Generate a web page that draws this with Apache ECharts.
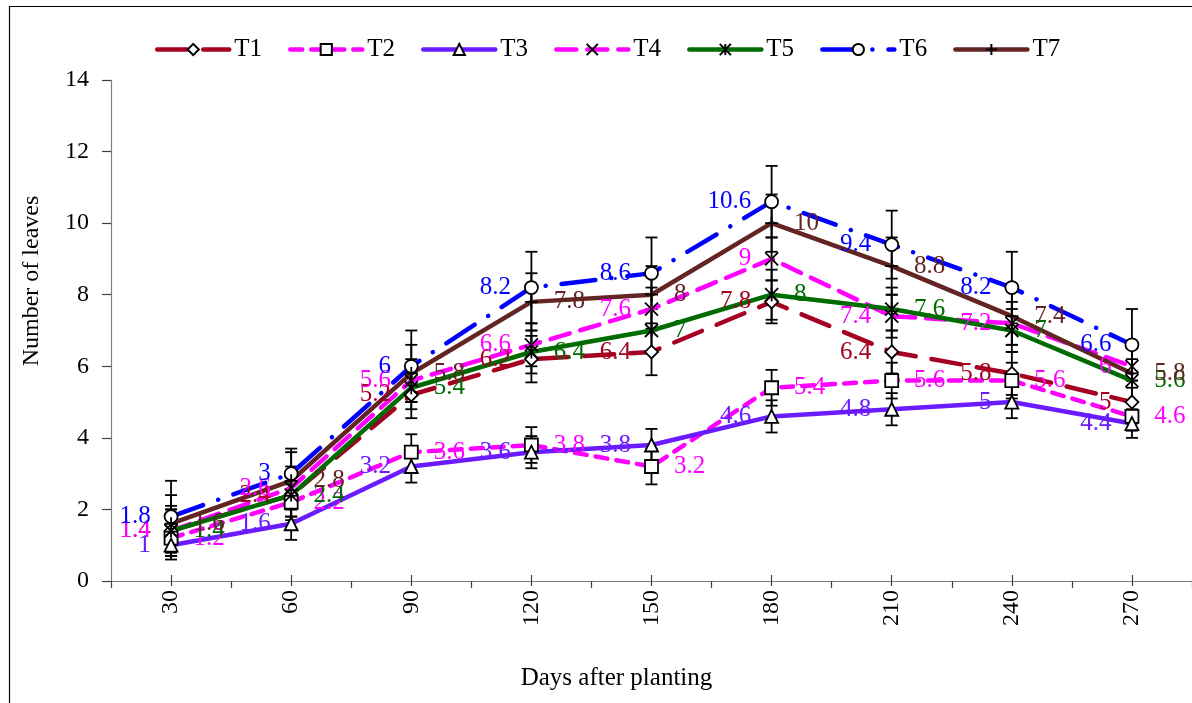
<!DOCTYPE html>
<html><head><meta charset="utf-8">
<script src="https://cdn.jsdelivr.net/npm/echarts@6/dist/echarts.min.js"></script>
<style>html,body{margin:0;padding:0;background:#fff}#chart{width:1192px;height:703px}</style>
</head><body><div id="chart"></div>
<script>
// ---- data ----
const days = ['30', '60', '90', '120', '150', '180', '210', '240', '270'];
const seriesNames = ['T1', 'T2', 'T3', 'T4', 'T5', 'T6', 'T7'];
const T1 = [1.4, 2.4, 5.2, 6.2, 6.4, 7.8, 6.4, 5.8, 5.0];
const T2 = [1.2, 2.2, 3.6, 3.8, 3.2, 5.4, 5.6, 5.6, 4.6];
const T3 = [1.0, 1.6, 3.2, 3.6, 3.8, 4.6, 4.8, 5.0, 4.4];
const T4 = [1.4, 2.6, 5.6, 6.6, 7.6, 9.0, 7.4, 7.2, 6.0];
const T5 = [1.4, 2.4, 5.4, 6.4, 7.0, 8.0, 7.6, 7.0, 5.6];
const T6 = [1.8, 3.0, 6.0, 8.2, 8.6, 10.6, 9.4, 8.2, 6.6];
const T7 = [1.6, 2.8, 5.8, 7.8, 8.0, 10.0, 8.8, 7.4, 5.8];
// error bar half-lengths (estimated)
const E1 = [0.7, 0.6, 0.65, 0.65, 0.65, 0.6, 0.6, 0.6, 0.6];
const E2 = [0.5, 0.5, 0.5, 0.5, 0.5, 0.5, 0.5, 0.5, 0.4];
const E3 = [0.4, 0.45, 0.45, 0.45, 0.45, 0.45, 0.45, 0.45, 0.4];
const E4 = [0.6, 0.6, 0.6, 0.6, 0.6, 0.6, 0.6, 0.6, 0.6];
const E5 = [0.6, 0.6, 0.6, 0.6, 0.6, 0.7, 0.6, 0.6, 0.6];
const E6 = [1.0, 0.7, 1.0, 1.0, 1.0, 1.0, 0.95, 1.0, 1.0];
const E7 = [0.8, 0.8, 0.8, 0.8, 0.8, 0.8, 0.8, 0.8, 0.8];
const yTicks = {min: 0, max: 14, interval: 2};

const values = [T1, T2, T3, T4, T5, T6, T7];
const errs = [E1, E2, E3, E4, E5, E6, E7];

// ---- styles ----
const FONT = 'Liberation Serif';
const colors = ['#A50021', '#FF00FF', '#6A1BFF', '#FF00FF', '#006B00', '#0000FF', '#632523'];
const dashes = [[30, 16], [12, 9], 'solid', [20, 11], 'solid', [34, 16, 0.1, 16], 'solid'];
const symbols = ['diamond', 'rect', 'triangle',
  'path://M0,0L10,10M10,0L0,10',
  'path://M0,0L10,10M10,0L0,10M5,0L5,10',
  'circle',
  'path://M5,0L5,10M0,5L10,5'];
const labelPos = ['left', 'right', 'left', 'left', 'right', 'left', 'right'];

const chart = echarts.init(document.getElementById('chart'), null, {renderer: 'canvas'});

const series = [];
// error bars
values.forEach((vals, si) => {
  series.push({
    type: 'custom',
    name: seriesNames[si] + ' err',
    xAxisIndex: 0, yAxisIndex: 0,
    z: 1,
    silent: true,
    data: vals.map((v, i) => [i, v, errs[si][i]]),
    renderItem: function (params, api) {
      const x = api.value(0), v = api.value(1), e = api.value(2);
      const top = api.coord([x, v + e]);
      const bot = api.coord([x, v - e]);
      const hw = 6;
      const st = {stroke: '#000', lineWidth: 1.8};
      return {type: 'group', children: [
        {type: 'line', shape: {x1: top[0], y1: top[1], x2: bot[0], y2: bot[1]}, style: st},
        {type: 'line', shape: {x1: top[0] - hw, y1: top[1], x2: top[0] + hw, y2: top[1]}, style: st},
        {type: 'line', shape: {x1: bot[0] - hw, y1: bot[1], x2: bot[0] + hw, y2: bot[1]}, style: st}
      ]};
    }
  });
});
values.forEach((vals, si) => {
  series.push({
    type: 'line',
    name: seriesNames[si],
    xAxisIndex: 0, yAxisIndex: 0,
    z: 3,
    data: vals,
    symbol: symbols[si],
    symbolSize: 13,
    showAllSymbol: true,
    itemStyle: {color: '#fff', borderColor: '#000', borderWidth: 1.8},
    lineStyle: {color: colors[si], width: 4.5, type: dashes[si], cap: 'round'},
    label: {
      show: true, position: labelPos[si], distance: labelPos[si] === 'left' ? 13 : 15,
      color: colors[si], fontFamily: FONT, fontSize: 25
    },
    emphasis: {disabled: true}
  });
});

const option = {
  animation: false,
  backgroundColor: '#fff',
  graphic: [{
    type: 'rect', shape: {x: 9.5, y: 6.5, width: 1400, height: 900},
    style: {fill: 'none', stroke: '#000', lineWidth: 1.2}, silent: true, z: 0
  }],
  legend: {
    data: seriesNames,
    left: 150, top: 32,
    itemWidth: 72, itemHeight: 14, itemGap: 26,
    lineStyle: {width: 4.5},
    textStyle: {fontFamily: FONT, fontSize: 25, color: '#000'}
  },
  grid: {left: 111, top: 80, width: 1086, height: 501, containLabel: false},
  xAxis: [{
    type: 'category', data: days, position: 'bottom', boundaryGap: true,
    axisLine: {lineStyle: {color: '#7f7f7f', width: 1.2}},
    axisTick: {show: true, length: 7, lineStyle: {color: '#404040', width: 1.2}},
    axisLabel: {rotate: 90, margin: 9, fontFamily: FONT, fontSize: 24, color: '#000'},
    name: 'Days after planting', nameLocation: 'middle', nameGap: 85,
    nameTextStyle: {fontFamily: FONT, fontSize: 25, color: '#000', padding: [0, 70, 0, 0]}
  }, {
    type: 'category', data: days, position: 'bottom', boundaryGap: true,
    axisLine: {show: false}, axisLabel: {show: false},
    axisTick: {show: true, inside: true, alignWithLabel: true, length: 6, lineStyle: {color: '#404040', width: 1.2}}
  }, {
    type: 'category', data: days, position: 'bottom', boundaryGap: true,
    axisLine: {show: false}, axisLabel: {show: false},
    axisTick: {show: true, inside: false, alignWithLabel: true, length: 5, lineStyle: {color: '#404040', width: 1.2}}
  }],
  yAxis: {
    type: 'value', min: yTicks.min, max: yTicks.max, interval: yTicks.interval,
    splitLine: {show: false},
    axisLine: {show: true, lineStyle: {color: '#7f7f7f', width: 1.2}},
    axisTick: {show: true, length: 9, lineStyle: {color: '#404040', width: 1.2}},
    axisLabel: {margin: 22, fontFamily: FONT, fontSize: 24, color: '#000'},
    name: 'Number of leaves', nameLocation: 'middle', nameGap: 67,
    nameTextStyle: {fontFamily: FONT, fontSize: 24, color: '#000', padding: [0, 0, 0, 99]}
  },
  series: series
};
chart.setOption(option);
</script>
</body></html>
